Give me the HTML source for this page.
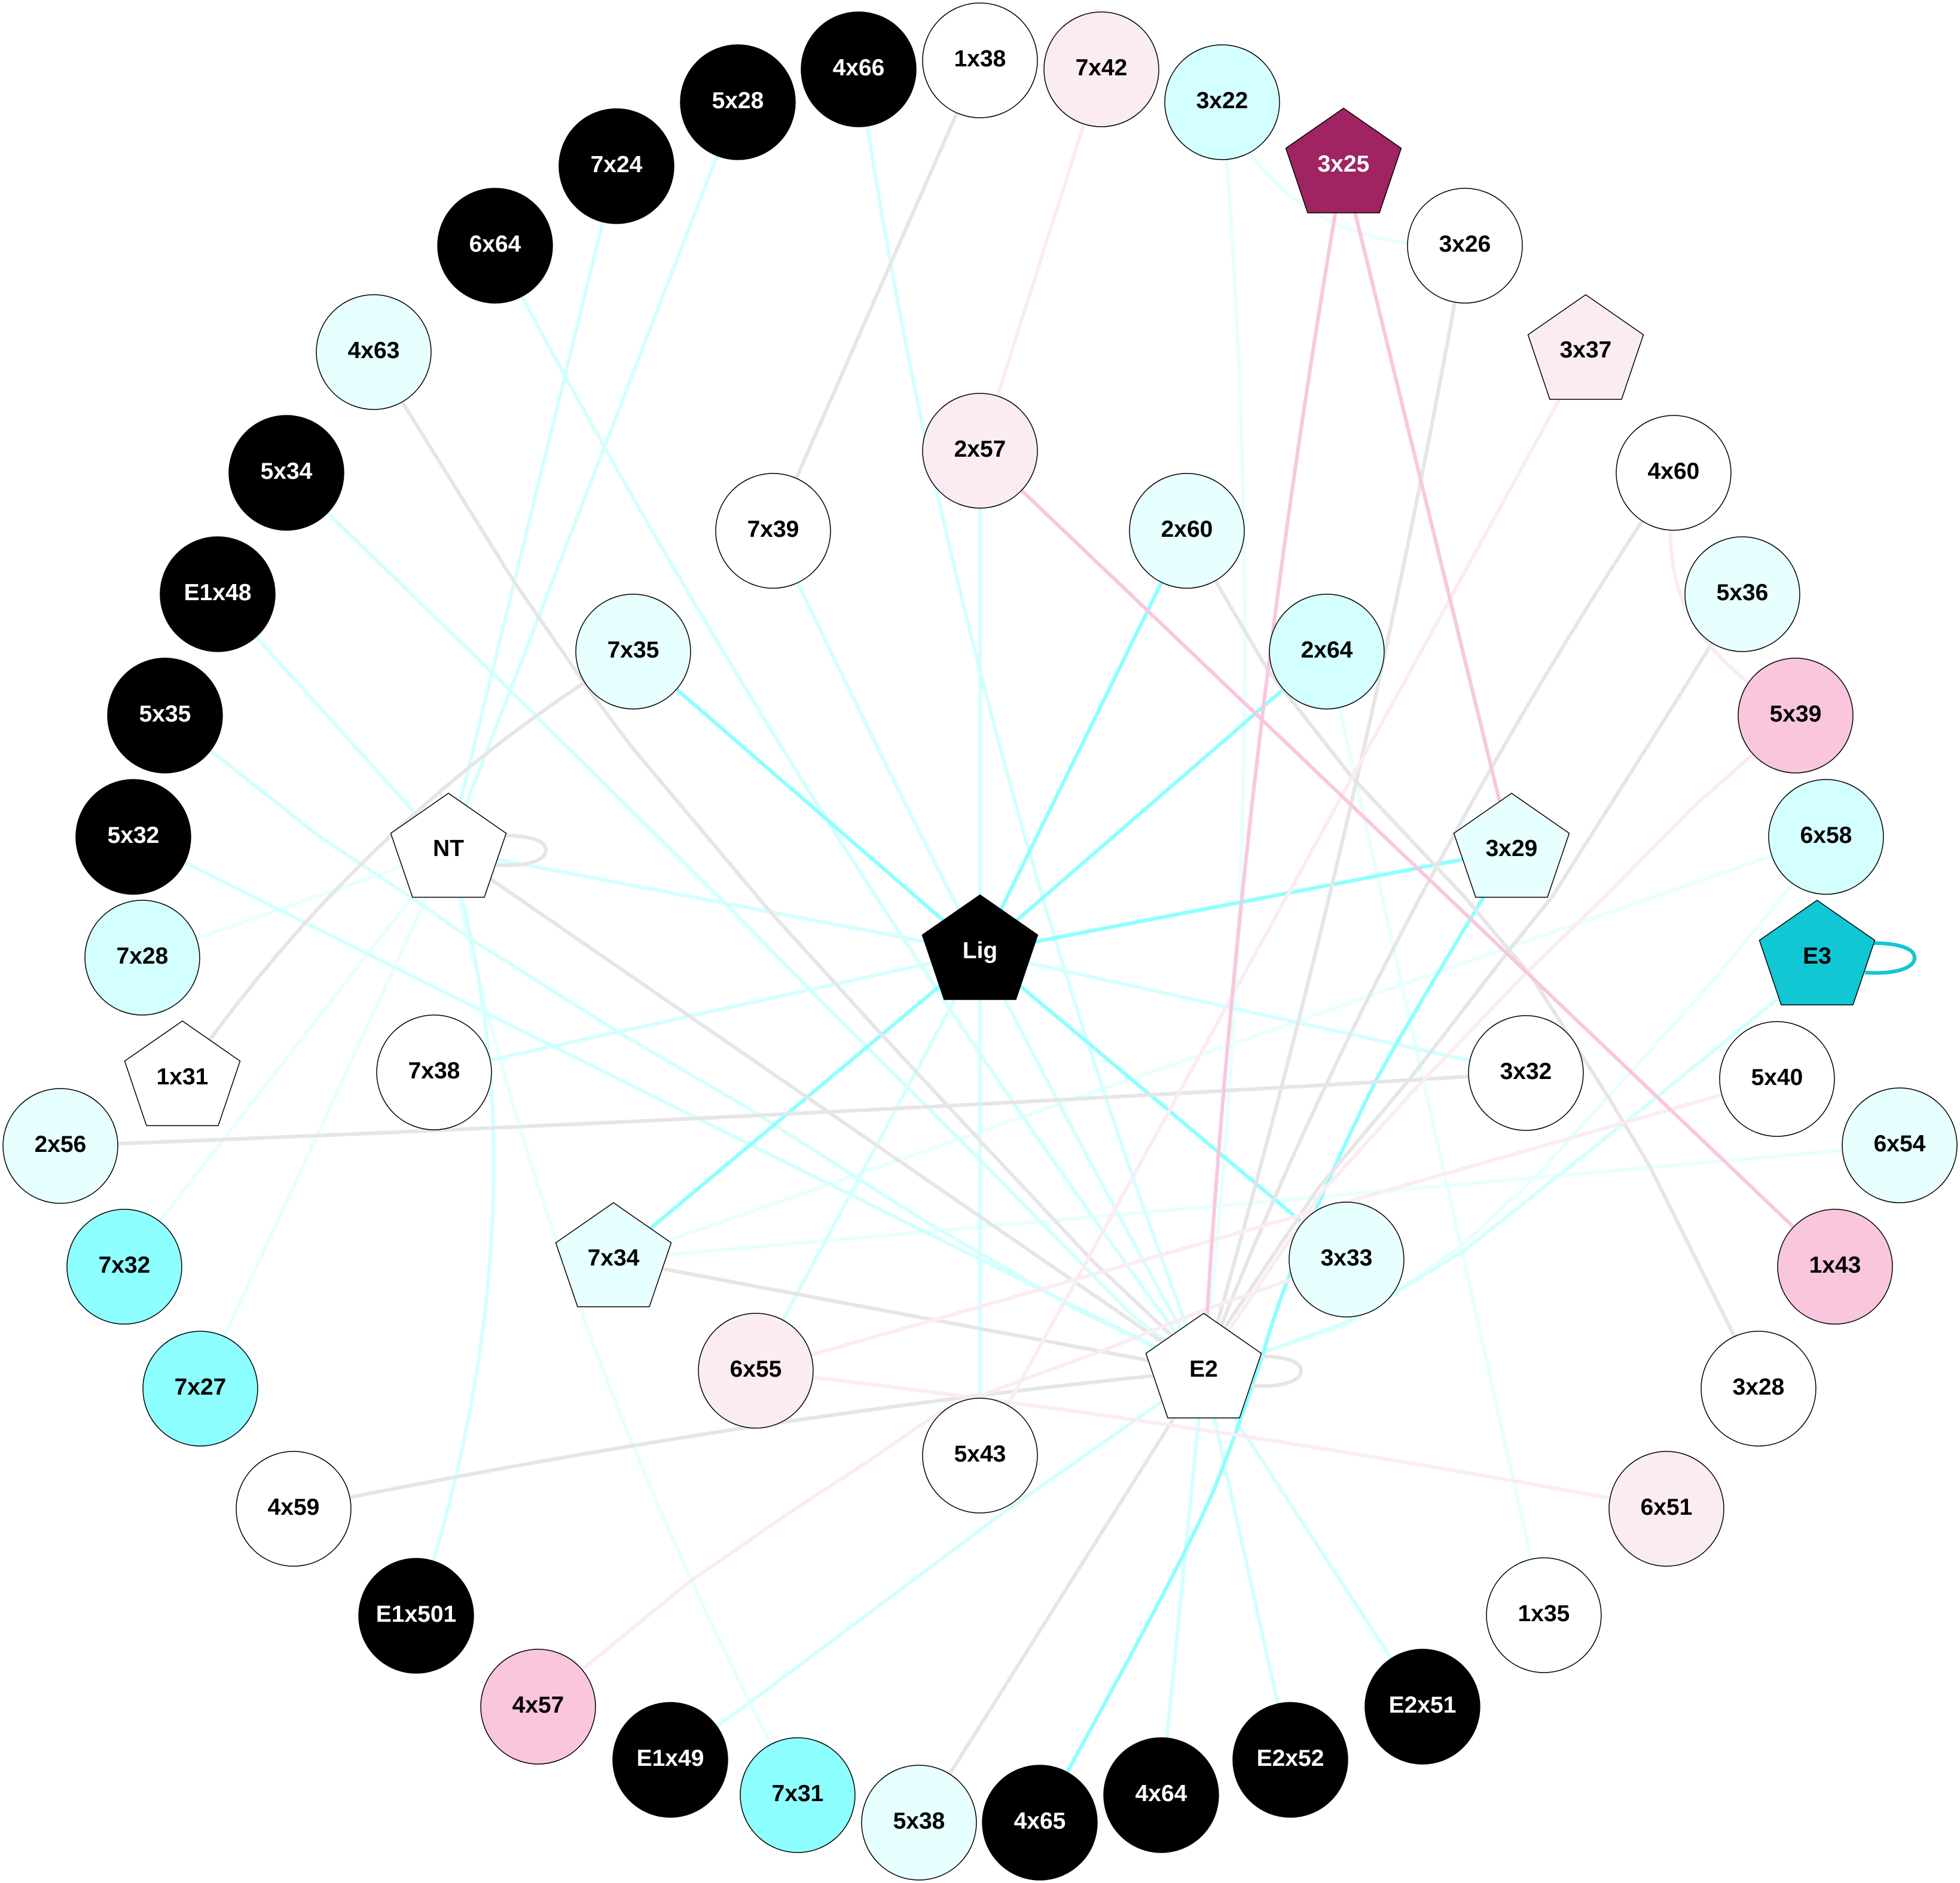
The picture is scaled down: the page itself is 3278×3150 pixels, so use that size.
<!DOCTYPE html>
<html><head><meta charset="utf-8"><style>
html,body{margin:0;padding:0;background:#fff;width:3278px;height:3150px;overflow:hidden}
svg{display:block}
path{fill:none;stroke-width:6.2;stroke-linejoin:round}
.s{stroke:#8effff}.c{stroke:#d4ffff}.f{stroke:#e8ffff}.g{stroke:#e6e6e6}.p{stroke:#f9c8de}.q{stroke:#fbecf4}.t{stroke:#10c7d3}
circle,polygon{stroke:#000;stroke-width:1.5}
.W{fill:#fff}.B{fill:#000}.FP{fill:#fbecf4}.P{fill:#f9c6dd}.C1{fill:#d4ffff}.C3{fill:#e8ffff}.S{fill:#8effff}.T{fill:#10c7d3}.M{fill:#9f2461}
text{font-family:"Liberation Sans",sans-serif;font-weight:700;font-size:39px;text-anchor:middle;fill:#000}
text.w{fill:#fff}
</style></head><body>
<svg width="3278" height="3150" viewBox="0 0 3278 3150" xmlns="http://www.w3.org/2000/svg">
<rect width="3278" height="3150" fill="#fff"/>
<g>
<path class="f" d="M2044,172 Q2150,420 2450,411"/>
<path class="f" d="M2044,172 Q2133,1230 2013,2293"/>
<path class="f" d="M238,1602 L750,1422"/>
<path class="f" d="M208,2119 L750,1422"/>
<path class="f" d="M335,2323 L750,1422"/>
<path class="f" d="M750,1422 Q922,2230 1334,3003"/>
<path class="f" d="M2219,1090 L2582,2702"/>
<path class="f" d="M1026,2107 L3054,1400"/>
<path class="f" d="M1026,2107 L3177,1916"/>
<path class="f" d="M3054,1400 L2997,1480 L2863,1643 L2568,1969 L2442,2086 L2250,2218 L2110,2263 L2013,2293"/>
<path class="c" d="M696,2703 C830,2300 880,1850 750,1422"/>
<path class="c" d="M1031,278 L750,1422"/>
<path class="c" d="M1234,171 L750,1422"/>
<path class="c" d="M364,994 L750,1422"/>
<path class="c" d="M750,1422 L1639,1593"/>
<path class="c" d="M828,411 Q1320,1350 2013,2293"/>
<path class="c" d="M1436,116 Q1596,1203 2013,2293"/>
<path class="c" d="M1293,888 Q1623,1588 2013,2293"/>
<path class="c" d="M479,791 L824,1126 L1217,1515 L1357,1658 L1638,1939 L1893,2200 L2013,2293"/>
<path class="c" d="M276,1197 L355,1258 L535,1400 L696,1507 L791,1573 L1033,1726 L1255,1856 L1542,2040 L1800,2190 L2013,2293"/>
<path class="c" d="M223,1400 L2013,2293"/>
<path class="c" d="M726,1794 L1639,1593"/>
<path class="c" d="M1639,754 L1639,2435"/>
<path class="c" d="M1264,2293 L1639,1593"/>
<path class="c" d="M2552,1795 L1639,1593"/>
<path class="c" d="M1121,2944 L1251,2850 L1672,2535 L1945,2343 L2013,2293"/>
<path class="c" d="M1942,3003 L2013,2293"/>
<path class="c" d="M2158,2944 L2013,2293"/>
<path class="c" d="M2379,2855 L2013,2293"/>
<path class="c" d="M3039,1600 L2979,1666 L2744,1857 L2449,2092 L2250,2213 L2110,2263 L2013,2293"/>
<path class="s" d="M1059,1090 L1639,1593"/>
<path class="s" d="M1985,888 L1639,1593"/>
<path class="s" d="M2219,1090 L1639,1593"/>
<path class="s" d="M2528,1422 L1639,1593"/>
<path class="s" d="M2252,2107 L1639,1593"/>
<path class="s" d="M1026,2107 L1639,1593"/>
<path class="s" d="M1739,3049 C1830,2880 1960,2650 2027,2500 C2060,2420 2090,2330 2113,2263 C2150,2130 2230,1950 2302,1806 C2360,1700 2440,1570 2528,1422"/>
<path class="g" d="M305,1804 Q608,1365 1059,1090"/>
<path class="g" d="M750,1422 L2013,2293"/>
<path class="g" d="M625,589 L673,673 L859,972 L985,1154 L1057,1250 L1287,1524 L1472,1728 L1638,1907 L1829,2111 L1957,2232 L2013,2293"/>
<path class="g" d="M1639,101 L1293,888"/>
<path class="g" d="M1985,888 L2033,972 L2121,1122 L2261,1300 L2449,1500 L2561,1633 L2691,1837 L2758,1949 L2898,2230 L2941,2323"/>
<path class="g" d="M2450,411 Q2285,1350 2013,2293"/>
<path class="g" d="M2799,791 Q2302,1540 2013,2293"/>
<path class="g" d="M2914,994 L2800,1178 L2596,1500 L2526,1587 L2361,1801 L2203,1990 L2053,2214 L2013,2293"/>
<path class="g" d="M491,2524 Q1252,2367 2013,2293"/>
<path class="g" d="M1026,2107 L2013,2293"/>
<path class="g" d="M101,1917 Q1326,1870 2552,1795"/>
<path class="g" d="M1537,3049 L2013,2293"/>
<path class="q" d="M1842,116 L1639,754"/>
<path class="q" d="M2652,588 L1639,2435"/>
<path class="q" d="M2799,791 C2780,970 2800,1070 3003,1197"/>
<path class="q" d="M3003,1197 L2928,1265 L2832,1350 L2684,1500 L2547,1633 L2372,1816 L2210,1995 L2056,2224 L2013,2293"/>
<path class="q" d="M1264,2293 L2972,1805"/>
<path class="q" d="M1264,2293 Q2025,2380 2787,2524"/>
<path class="q" d="M900,2855 L977,2790 L1152,2647 L1321,2530 L1447,2448 L1566,2366 L1644,2333 L1850,2257 L2017,2190 L2160,2140 L2252,2107"/>
<path class="p" d="M2247,277 Q2072,1283 2013,2293"/>
<path class="p" d="M2247,277 L2528,1422"/>
<path class="p" d="M1639,754 L3069,2119"/>
<path class="g" d="M830,1398 C880,1396 913,1405 913,1422 C913,1440 880,1450 830,1447"/>
<path class="g" d="M2093,2269 C2143,2267 2176,2276 2176,2293 C2176,2311 2143,2321 2093,2318"/>
<path class="t" d="M3119,1578 C3169,1576 3202,1585 3202,1602 C3202,1620 3169,1630 3119,1627"/>
</g>
<g>
<circle class="W" cx="1639" cy="101" r="96"/><text x="1639" y="111">1x38</text>
<circle class="FP" cx="1842" cy="116" r="96"/><text x="1842" y="126">7x42</text>
<circle class="C1" cx="2044" cy="171" r="96"/><text x="2044" y="181">3x22</text>
<polygon class="M" points="2247,181 2343.5,248 2307,356 2187,356 2150.5,248"/><text class="w" x="2247" y="287">3x25</text>
<circle class="W" cx="2450" cy="411" r="96"/><text x="2450" y="421">3x26</text>
<polygon class="FP" points="2652,493 2748.5,560 2712,668 2592,668 2555.5,560"/><text x="2652" y="598">3x37</text>
<circle class="W" cx="2799" cy="791" r="96"/><text x="2799" y="801">4x60</text>
<circle class="C3" cx="2914" cy="994" r="96"/><text x="2914" y="1004">5x36</text>
<circle class="P" cx="3003" cy="1197" r="96"/><text x="3003" y="1207">5x39</text>
<circle class="C1" cx="3054" cy="1400" r="96"/><text x="3054" y="1410">6x58</text>
<polygon class="T" points="3039,1506 3135.5,1573 3099,1681 2979,1681 2942.5,1573"/><text x="3039" y="1612">E3</text>
<circle class="W" cx="2972" cy="1805" r="96"/><text x="2972" y="1815">5x40</text>
<circle class="C3" cx="3177" cy="1916" r="96"/><text x="3177" y="1926">6x54</text>
<circle class="P" cx="3069" cy="2119" r="96"/><text x="3069" y="2129">1x43</text>
<circle class="W" cx="2941" cy="2323" r="96"/><text x="2941" y="2333">3x28</text>
<circle class="FP" cx="2787" cy="2524" r="96"/><text x="2787" y="2534">6x51</text>
<circle class="W" cx="2582" cy="2702" r="96"/><text x="2582" y="2712">1x35</text>
<circle class="B" cx="2379" cy="2855" r="96"/><text class="w" x="2379" y="2865">E2x51</text>
<circle class="B" cx="2158" cy="2944" r="96"/><text class="w" x="2158" y="2954">E2x52</text>
<circle class="B" cx="1942" cy="3003" r="96"/><text class="w" x="1942" y="3013">4x64</text>
<circle class="B" cx="1739" cy="3049" r="96"/><text class="w" x="1739" y="3059">4x65</text>
<circle class="C3" cx="1537" cy="3049" r="96"/><text x="1537" y="3059">5x38</text>
<circle class="S" cx="1334" cy="3003" r="96"/><text x="1334" y="3013">7x31</text>
<circle class="B" cx="1121" cy="2944" r="96"/><text class="w" x="1121" y="2954">E1x49</text>
<circle class="P" cx="900" cy="2855" r="96"/><text x="900" y="2865">4x57</text>
<circle class="B" cx="696" cy="2703" r="96"/><text class="w" x="696" y="2713">E1x501</text>
<circle class="W" cx="491" cy="2524" r="96"/><text x="491" y="2534">4x59</text>
<circle class="S" cx="335" cy="2323" r="96"/><text x="335" y="2333">7x27</text>
<circle class="S" cx="208" cy="2119" r="96"/><text x="208" y="2129">7x32</text>
<circle class="C3" cx="101" cy="1917" r="96"/><text x="101" y="1927">2x56</text>
<polygon class="W" points="305,1708 401.5,1775 365,1883 245,1883 208.5,1775"/><text x="305" y="1814">1x31</text>
<circle class="W" cx="726" cy="1794" r="96"/><text x="726" y="1804">7x38</text>
<circle class="C1" cx="238" cy="1602" r="96"/><text x="238" y="1612">7x28</text>
<circle class="B" cx="223" cy="1400" r="96"/><text class="w" x="223" y="1410">5x32</text>
<circle class="B" cx="276" cy="1197" r="96"/><text class="w" x="276" y="1207">5x35</text>
<circle class="B" cx="364" cy="994" r="96"/><text class="w" x="364" y="1004">E1x48</text>
<circle class="B" cx="479" cy="791" r="96"/><text class="w" x="479" y="801">5x34</text>
<circle class="C3" cx="625" cy="589" r="96"/><text x="625" y="599">4x63</text>
<circle class="B" cx="828" cy="411" r="96"/><text class="w" x="828" y="421">6x64</text>
<circle class="B" cx="1031" cy="278" r="96"/><text class="w" x="1031" y="288">7x24</text>
<circle class="B" cx="1234" cy="171" r="96"/><text class="w" x="1234" y="181">5x28</text>
<circle class="B" cx="1436" cy="116" r="96"/><text class="w" x="1436" y="126">4x66</text>
<circle class="FP" cx="1639" cy="754" r="96"/><text x="1639" y="764">2x57</text>
<circle class="W" cx="1293" cy="888" r="96"/><text x="1293" y="898">7x39</text>
<circle class="C3" cx="1985" cy="888" r="96"/><text x="1985" y="898">2x60</text>
<circle class="C3" cx="1059" cy="1090" r="96"/><text x="1059" y="1100">7x35</text>
<circle class="C1" cx="2219" cy="1090" r="96"/><text x="2219" y="1100">2x64</text>
<polygon class="W" points="750,1327 846.5,1394 810,1501 690,1501 653.5,1394"/><text x="750" y="1432">NT</text>
<polygon class="C3" points="2528,1327 2624.5,1394 2588,1501 2468,1501 2431.5,1394"/><text x="2528" y="1432">3x29</text>
<polygon class="B" points="1639,1497 1735.5,1564 1699,1672 1579,1672 1542.5,1564"/><text class="w" x="1639" y="1603">Lig</text>
<circle class="W" cx="2552" cy="1795" r="96"/><text x="2552" y="1805">3x32</text>
<polygon class="C3" points="1026,2012 1122.5,2079 1086,2186 966,2186 929.5,2079"/><text x="1026" y="2117">7x34</text>
<circle class="C3" cx="2252" cy="2107" r="96"/><text x="2252" y="2117">3x33</text>
<circle class="FP" cx="1264" cy="2293" r="96"/><text x="1264" y="2303">6x55</text>
<polygon class="W" points="2013,2197 2109.5,2264 2073,2372 1953,2372 1916.5,2264"/><text x="2013" y="2303">E2</text>
<circle class="W" cx="1639" cy="2435" r="96"/><text x="1639" y="2445">5x43</text>
</g>
</svg>
</body></html>
